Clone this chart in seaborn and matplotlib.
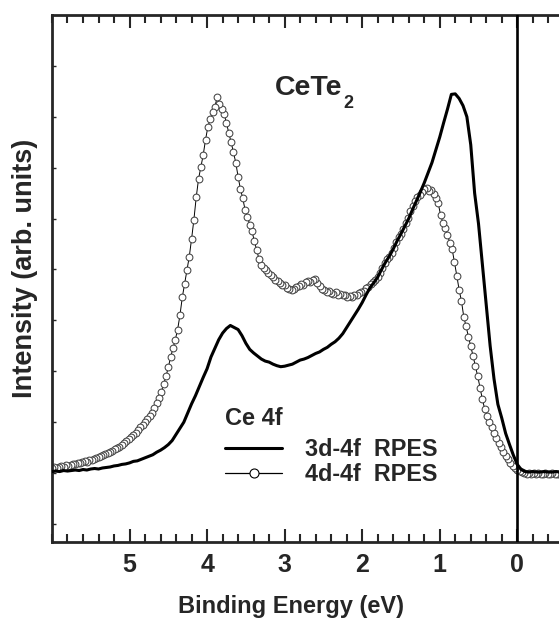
import numpy as np
import matplotlib
matplotlib.use("Agg")
import matplotlib.pyplot as plt
import seaborn as sns
from matplotlib.lines import Line2D
from matplotlib.ticker import MultipleLocator

# binding energy grids (eV), sampled from 6.0 eV downwards
e_3d = np.round(np.arange(6.00, -0.551, -0.05), 2)
e_4d = np.round(np.arange(6.00, -0.541, -0.03), 2)

# Ce 4f, 3d-4f RPES (solid line)
i_3d = [
    1.03, 1.04, 1.03, 1.05, 1.04, 1.05, 1.06, 1.05, 1.07, 1.06,
    1.08, 1.09, 1.08, 1.10, 1.11, 1.12, 1.14, 1.15, 1.17, 1.18,
    1.20, 1.23, 1.24, 1.27, 1.30, 1.33, 1.36, 1.41, 1.45, 1.50,
    1.56, 1.64, 1.76, 1.88, 2.00, 2.18, 2.36, 2.52, 2.70, 2.88,
    3.05, 3.28, 3.45, 3.62, 3.75, 3.84, 3.90, 3.86, 3.82, 3.70,
    3.55, 3.43, 3.36, 3.30, 3.24, 3.20, 3.18, 3.14, 3.11, 3.09,
    3.10, 3.12, 3.14, 3.18, 3.22, 3.24, 3.27, 3.31, 3.35, 3.38,
    3.43, 3.47, 3.53, 3.58, 3.65, 3.74, 3.86, 3.98, 4.10, 4.22,
    4.35, 4.50, 4.64, 4.74, 4.85, 5.00, 5.14, 5.26, 5.40, 5.56,
    5.70, 5.85, 6.00, 6.18, 6.35, 6.52, 6.70, 6.90, 7.10, 7.35,
    7.60, 7.88, 8.15, 8.44, 8.45, 8.36, 8.22, 8.00, 7.45, 6.50,
    5.90, 5.10, 4.30, 3.50, 2.85, 2.35, 2.08, 1.78, 1.56, 1.35,
    1.17, 1.07, 1.03, 1.02, 1.03, 1.02, 1.02, 1.03, 1.02, 1.02,
    1.03, 1.02,
]

# Ce 4f, 4d-4f RPES (open circles)
i_4d = [
    1.10, 1.11, 1.10, 1.12, 1.13, 1.12, 1.15, 1.14, 1.16, 1.17,
    1.18, 1.20, 1.19, 1.21, 1.23, 1.22, 1.25, 1.26, 1.27, 1.30,
    1.31, 1.33, 1.36, 1.37, 1.40, 1.42, 1.44, 1.47, 1.50, 1.52,
    1.56, 1.60, 1.64, 1.67, 1.70, 1.74, 1.79, 1.84, 1.90, 1.94,
    2.00, 2.06, 2.12, 2.19, 2.28, 2.38, 2.48, 2.60, 2.75, 2.90,
    3.08, 3.28, 3.45, 3.62, 3.82, 4.10, 4.45, 4.72, 4.98, 5.25,
    5.60, 5.98, 6.42, 6.78, 7.02, 7.25, 7.55, 7.80, 7.95, 8.10,
    8.20, 8.38, 8.26, 8.15, 8.05, 7.88, 7.68, 7.50, 7.30, 7.10,
    6.82, 6.58, 6.40, 6.17, 6.04, 5.88, 5.75, 5.55, 5.38, 5.20,
    5.08, 5.02, 4.98, 4.94, 4.90, 4.86, 4.80, 4.77, 4.74, 4.69,
    4.70, 4.64, 4.62, 4.59, 4.62, 4.66, 4.68, 4.72, 4.70, 4.76,
    4.78, 4.75, 4.80, 4.82, 4.74, 4.68, 4.62, 4.60, 4.56, 4.58,
    4.54, 4.52, 4.55, 4.50, 4.52, 4.49, 4.50, 4.46, 4.47, 4.46,
    4.49, 4.50, 4.53, 4.56, 4.58, 4.63, 4.66, 4.72, 4.76, 4.80,
    4.86, 4.94, 5.02, 5.12, 5.20, 5.24, 5.32, 5.42, 5.54, 5.64,
    5.70, 5.80, 5.92, 6.02, 6.14, 6.24, 6.35, 6.42, 6.47, 6.52,
    6.58, 6.60, 6.54, 6.56, 6.48, 6.40, 6.30, 6.08, 5.92, 5.82,
    5.68, 5.52, 5.40, 5.14, 4.88, 4.60, 4.38, 4.07, 3.88, 3.68,
    3.49, 3.30, 3.10, 2.90, 2.68, 2.45, 2.26, 2.12, 2.00, 1.91,
    1.78, 1.68, 1.60, 1.52, 1.42, 1.34, 1.28, 1.20, 1.14, 1.10,
    1.07, 1.04, 1.02, 1.00, 0.99, 1.01, 0.98, 1.00, 0.99, 1.01,
    0.98, 0.99, 1.00, 0.98, 0.99, 1.00, 0.98, 0.99, 0.99,
]

x_major = [5, 4, 3, 2, 1, 0]
y_ticks = [0, 1, 2, 3, 4, 5, 6, 7, 8, 9]
labels = ["3d-4f  RPES", "4d-4f  RPES"]

sns.set_style("ticks")
plt.rcParams["font.family"] = ["Liberation Sans", "DejaVu Sans"]
plt.rcParams["font.weight"] = "bold"

fig = plt.figure(figsize=(5.59, 6.19), dpi=100)
ax = fig.add_axes([0.093, 0.1244, 0.9156, 0.8514])

sns.lineplot(x=e_4d, y=i_4d, ax=ax, color="black", lw=0.7, marker="o",
             markersize=4.9, markerfacecolor="white", markeredgecolor="#444444",
             markeredgewidth=0.75, legend=False, zorder=2)
sns.lineplot(x=e_3d, y=i_3d, ax=ax, color="black", lw=2.2, legend=False, zorder=3)

ax.axvline(0, color="black", lw=1.9, zorder=4)

ax.set_xlim(6.0, -0.6)
ax.set_ylim(-0.354, 10.0)
ax.set_xticks(x_major)
ax.xaxis.set_minor_locator(MultipleLocator(0.2))
ax.set_yticks(y_ticks)
ax.tick_params(axis="x", which="major", direction="in", length=9.5, width=1.5,
               top=True, bottom=True, labelsize=18, pad=8)
ax.tick_params(axis="x", which="minor", direction="in", length=5.5, width=1.5,
               top=True, bottom=True)
ax.tick_params(axis="y", which="major", direction="in", length=3, width=1,
               left=True, right=False, labelleft=False)
for s in ax.spines.values():
    s.set_linewidth(2)
    s.set_visible(True)

ax.set_xlabel("Binding Energy (eV)", fontsize=17, fontweight="bold", labelpad=13)
ax.xaxis.label.set_x(0.467)
ax.set_ylabel("Intensity (arb. units)", fontsize=19.5, fontweight="bold", labelpad=10)
ax.yaxis.label.set_y(0.519)

# compound label with a low subscript
cete = ax.text(3.13, 8.43, "CeTe", fontsize=20.5, fontweight="bold",
               ha="left", va="baseline")
ax.annotate("2", xy=(1, 0), xycoords=cete, xytext=(1, -5),
            textcoords="offset points", fontsize=13, fontweight="bold",
            ha="left", va="baseline")

ax.text(3.77, 1.945, "Ce 4f", fontsize=17, fontweight="bold",
        ha="left", va="baseline")

handles = [
    Line2D([], [], color="black", lw=2.2),
    Line2D([], [], color="black", lw=0.9, marker="o", markersize=6.5,
           markerfacecolor="white", markeredgecolor="black", markeredgewidth=0.8),
]
leg = ax.legend(handles, labels, loc="upper left",
                bbox_to_anchor=(0.338, 0.1966), frameon=False, fontsize=16.8,
                handlelength=2.45, handletextpad=0.98, labelspacing=0.06,
                borderpad=0, borderaxespad=0)

fig.savefig("out.png", dpi=100)
